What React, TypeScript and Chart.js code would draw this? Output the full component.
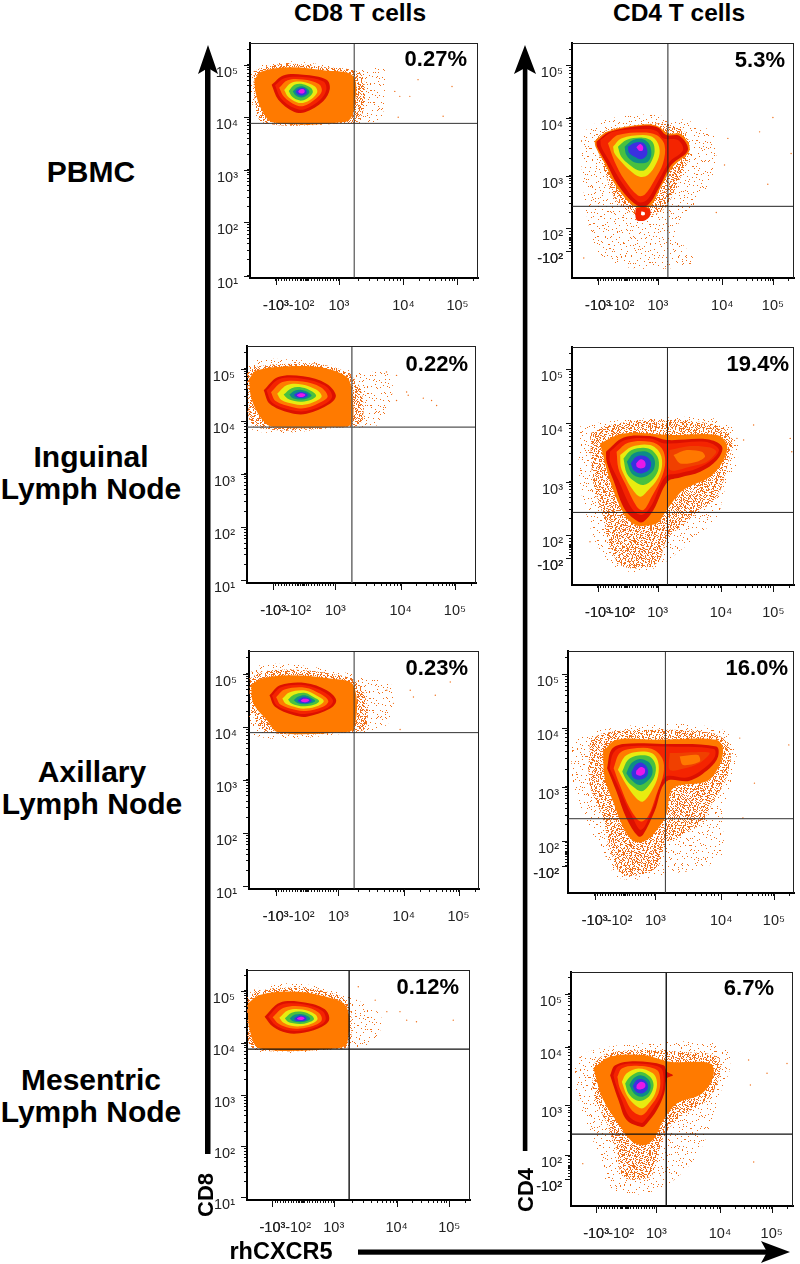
import React, { useEffect, useRef } from "react";
import { Chart, registerables } from "chart.js";

Chart.register(...registerables);

type Pts = number[][];

// All mark values are display channels (0-1000) of the biexponential axes.
// Density levels, outer to inner: sparse, medium, orange, dark red, red, amber, yellow, green, teal, blue, magenta.

const cd8PbmcLevels: Pts[] = [
  [[4,872],[51,907],[175,922],[321,907],[453,886],[584,893],[591,787],[569,673],[467,658],[51,658],[4,773]],
  [[15,879],[66,900],[175,912],[321,898],[482,872],[504,773],[482,673],[438,658],[58,661],[22,751]],
  [[19,844],[51,879],[175,897],[321,884],[453,858],[455,716],[423,666],[102,662],[51,716],[25,787]],
  [[95,822],[146,862],[234,865],[336,844],[350,804],[321,752],[241,705],[190,709],[124,759]],
  [[110,820],[150,850],[232,855],[322,836],[335,802],[308,758],[240,718],[196,722],[136,764]],
  [[128,810],[165,842],[232,845],[302,826],[315,796],[290,764],[235,732],[200,736],[150,770]],
  [[150,800],[180,830],[230,835],[285,815],[295,790],[270,762],[232,745],[205,748],[168,770]],
  [[170,796],[195,822],[232,825],[268,808],[275,788],[252,765],[228,755],[208,758],[182,775]],
  [[188,795],[208,812],[234,815],[255,802],[260,788],[242,772],[226,768],[210,771],[195,782]],
  [[200,794],[215,806],[234,808],[247,798],[248,786],[234,778],[218,778],[206,784]],
  [[212,795],[222,803],[235,803],[240,795],[236,787],[224,785],[214,789]],
];
const cd8InguinalLevels: Pts[] = [
  [[0,904],[34,939],[187,943],[347,925],[478,890],[620,880],[630,777],[566,665],[449,657],[0,657]],
  [[0,883],[34,911],[187,925],[332,921],[449,879],[500,806],[500,679],[434,657],[34,658],[4,763]],
  [[9,862],[41,897],[187,915],[332,908],[434,870],[456,820],[456,672],[376,658],[114,658],[63,693],[19,778]],
  [[73,813],[136,869],[245,872],[347,841],[388,792],[362,756],[260,714],[187,718],[99,756]],
  [[85,812],[140,860],[243,862],[338,834],[372,790],[348,760],[258,726],[192,730],[110,762]],
  [[105,805],[155,848],[243,850],[322,826],[352,788],[328,766],[255,738],[200,742],[125,768]],
  [[132,798],[175,835],[240,838],[302,816],[326,788],[302,768],[248,752],[205,755],[150,772]],
  [[160,795],[195,822],[240,825],[285,808],[302,790],[280,773],[240,765],[208,768],[175,780]],
  [[185,795],[210,812],[240,814],[270,803],[282,790],[262,778],[238,774],[212,776],[195,783]],
  [[205,794],[222,804],[243,805],[262,798],[265,790],[250,782],[228,781],[212,786]],
  [[217,793],[230,800],[245,800],[255,794],[248,787],[232,785],[222,788]],
];
const cd8AxillaryLevels: Pts[] = [
  [[1,905],[48,940],[178,944],[367,919],[498,891],[614,863],[625,780],[600,690],[469,657],[1,657]],
  [[4,884],[55,912],[178,922],[353,905],[469,870],[512,780],[505,675],[440,657],[91,657],[26,710],[4,793]],
  [[9,856],[55,884],[178,898],[353,884],[454,856],[457,675],[396,658],[128,658],[77,710],[19,780]],
  [[89,814],[135,856],[244,866],[338,835],[379,793],[353,758],[251,724],[193,731],[113,766]],
  [[100,812],[140,848],[244,856],[325,828],[365,792],[342,762],[250,736],[198,742],[122,770]],
  [[118,806],[155,838],[244,846],[310,820],[345,790],[322,766],[248,748],[205,752],[138,774]],
  [[145,800],[175,826],[244,834],[295,812],[325,790],[302,770],[246,758],[210,762],[160,778]],
  [[170,796],[195,816],[244,824],[282,806],[305,790],[285,775],[244,768],[215,770],[182,782]],
  [[195,794],[212,808],[244,814],[272,802],[288,790],[268,780],[244,776],[220,778],[205,785]],
  [[212,793],[228,804],[248,805],[268,797],[272,789],[255,782],[232,781],[218,786]],
  [[225,792],[236,799],[250,799],[262,793],[254,787],[240,785],[230,787]],
];
const cd8MesentericLevels: Pts[] = [
  [[0,891],[42,920],[192,942],[371,916],[476,877],[530,850],[600,800],[590,720],[521,664],[446,658],[0,658]],
  [[1,869],[42,906],[192,924],[356,906],[454,855],[461,674],[409,658],[27,658],[1,753]],
  [[4,855],[57,891],[192,906],[341,887],[446,840],[449,681],[401,659],[57,659],[12,739]],
  [[79,797],[147,858],[259,859],[349,829],[368,782],[319,746],[237,725],[177,727],[117,753]],
  [[95,797],[150,848],[258,850],[338,822],[352,782],[310,752],[238,736],[182,738],[128,760]],
  [[115,795],[165,836],[256,840],[322,814],[335,782],[298,758],[238,746],[190,748],[142,766]],
  [[145,792],[185,825],[250,828],[305,808],[316,785],[285,765],[240,755],[198,758],[162,772]],
  [[170,790],[200,814],[248,818],[290,802],[300,785],[272,771],[240,765],[208,768],[182,776]],
  [[192,790],[215,806],[248,808],[275,798],[284,787],[262,776],[238,773],[214,775],[200,780]],
  [[212,790],[230,800],[250,801],[265,794],[266,784],[248,778],[230,778],[216,782]],
  [[224,790],[236,796],[250,796],[258,790],[250,784],[238,783],[228,785]],
];
const cd4PbmcLevels: Pts[] = [
  [[42,615],[140,672],[380,693],[620,629],[650,516],[605,375],[470,205],[545,64],[155,64],[80,205],[42,488]],
  [[102,587],[155,629],[380,657],[500,629],[530,530],[470,389],[425,304],[370,270],[280,270],[200,330],[170,389]],
  [[102,583],[162,625],[320,653],[387,646],[432,615],[492,612],[530,545],[455,474],[402,389],[350,304],[282,304],[200,389],[147,488],[106,559]],
  [[110,580],[170,622],[320,648],[387,640],[425,608],[485,604],[522,544],[447,481],[395,389],[342,311],[290,311],[207,396],[155,488],[113,559]],
  [[128,587],[185,622],[320,634],[380,626],[412,594],[477,587],[500,544],[440,495],[387,410],[337,332],[297,325],[222,410],[170,495],[132,559]],
  [[162,573],[207,608],[320,619],[380,608],[417,566],[410,488],[372,417],[327,354],[297,351],[237,417],[192,495]],
  [[185,559],[222,594],[320,608],[372,594],[395,544],[380,488],[342,438],[305,431],[260,459],[222,495],[192,530]],
  [[207,559],[245,587],[320,597],[362,580],[372,537],[357,495],[327,459],[297,459],[260,481],[222,516]],
  [[237,559],[275,587],[320,590],[350,566],[357,523],[342,495],[312,488],[275,495],[245,523]],
  [[252,559],[282,576],[320,576],[337,552],[337,523],[312,505],[282,516],[257,533]],
  [[290,556],[307,570],[320,559],[317,542],[302,542]],
];
const cd4InguinalLevels: Pts[] = [
  [[29,665],[96,679],[322,700],[683,693],[743,609],[743,511],[683,385],[653,287],[472,133],[352,63],[217,63],[141,119],[81,245],[36,427]],
  [[81,637],[171,672],[352,693],[653,672],[720,609],[698,497],[653,371],[563,301],[427,189],[382,91],[232,77],[171,161],[141,287],[96,427]],
  [[126,595],[231,637],[442,630],[653,630],[698,588],[683,525],[623,455],[502,399],[427,315],[385,260],[340,250],[290,250],[240,290],[180,413]],
  [[153,560],[233,620],[352,626],[427,609],[608,612],[676,581],[653,525],[578,476],[487,452],[430,434],[367,315],[322,266],[299,266],[239,315],[186,441],[156,518]],
  [[171,560],[239,609],[352,616],[420,595],[600,602],[661,571],[638,532],[563,490],[480,469],[420,455],[359,336],[314,294],[269,322],[209,441],[171,518]],
  [[201,560],[253,598],[352,602],[405,574],[420,518],[405,455],[359,371],[322,315],[292,329],[239,427],[209,490]],
  [[217,546],[269,581],[352,588],[397,553],[405,497],[382,441],[344,399],[307,371],[269,406],[239,455],[220,497]],
  [[232,532],[269,567],[344,574],[385,539],[390,490],[367,448],[322,420],[284,434],[247,469]],
  [[247,518],[277,553],[337,560],[370,532],[370,490],[344,462],[307,452],[269,469]],
  [[265,511],[289,539],[329,542],[355,518],[349,486],[314,469],[280,480]],
  [[289,511],[310,528],[329,518],[329,497],[310,490],[292,497]],
];
const cd4AxillaryLevels: Pts[] = [
  [[15,626],[81,660],[332,695],[686,674],[745,571],[730,475],[686,337],[671,144],[435,76],[229,62],[155,172],[96,268],[22,461]],
  [[96,626],[155,660],[332,674],[642,660],[716,598],[701,475],[642,378],[583,282],[435,200],[391,103],[243,76],[184,186],[155,310],[96,447]],
  [[155,585],[214,633],[391,633],[656,633],[686,592],[664,516],[612,461],[465,433],[435,323],[385,250],[340,215],[290,215],[245,270],[199,378],[162,475]],
  [[173,516],[192,592],[243,616],[420,616],[656,605],[664,564],[627,516],[538,464],[435,461],[383,337],[332,241],[310,234],[258,310],[214,420]],
  [[184,516],[202,581],[251,605],[420,605],[645,595],[650,564],[612,523],[531,478],[428,478],[376,351],[324,261],[280,323],[229,427]],
  [[202,516],[229,578],[280,596],[369,596],[417,557],[423,495],[391,406],[354,316],[320,296],[273,351],[229,447]],
  [[221,509],[251,564],[295,582],[369,578],[398,544],[398,482],[369,420],[332,378],[302,392],[258,447]],
  [[240,502],[265,550],[310,568],[361,564],[387,530],[383,482],[354,440],[324,420],[287,440],[258,468]],
  [[258,495],[280,536],[317,554],[354,543],[373,516],[369,482],[339,454],[310,447],[280,468]],
  [[280,498],[299,530],[324,539],[349,520],[354,495],[339,475],[310,468],[287,478]],
  [[302,505],[320,520],[339,514],[339,495],[320,485],[302,491]],
];
const cd4MesentericLevels: Pts[] = [
  [[18,624],[101,666],[326,695],[687,688],[717,595],[672,481],[627,338],[552,195],[386,67],[191,67],[116,238],[26,481]],
  [[101,609],[161,652],[326,666],[477,659],[657,638],[672,566],[612,452],[492,381],[417,295],[387,195],[356,124],[236,124],[206,238],[161,352],[101,481]],
  [[101,588],[176,638],[326,645],[447,616],[627,609],[642,559],[590,481],[477,438],[417,367],[375,290],[330,260],[270,280],[215,350],[146,452]],
  [[176,559],[199,602],[289,619],[417,602],[432,574],[459,559],[432,545],[420,481],[387,410],[341,352],[319,338],[251,367],[214,452],[188,524]],
  [[191,559],[214,598],[293,609],[402,592],[417,552],[409,481],[372,417],[334,367],[319,355],[266,378],[229,452],[203,517]],
  [[209,552],[229,588],[296,599],[387,581],[402,538],[394,481],[356,424],[319,388],[274,409],[244,459],[218,509]],
  [[229,531],[251,567],[304,588],[369,567],[387,531],[379,481],[349,438],[319,417],[281,438],[251,474]],
  [[244,524],[266,552],[311,574],[356,552],[372,517],[356,474],[326,452],[293,452],[259,481]],
  [[263,517],[281,545],[314,559],[349,541],[359,509],[344,478],[314,467],[284,481]],
  [[278,512],[296,538],[323,541],[344,524],[344,498],[319,481],[293,488]],
  [[296,517],[314,531],[333,524],[333,507],[314,498],[296,502]],
];

// Extra islands: [palette index, outline]
const cd4PbmcExtras: [number, Pts][] = [
  [4, [[287,296],[320,303],[352,290],[350,262],[325,244],[292,246],[285,270]]],
  [11, [[312,283],[327,280],[327,268],[312,268]]],
];
const cd4InguinalExtras: [number, Pts][] = [
  [12, [[439,567],[532,584],[623,578],[650,560],[608,518],[532,497],[442,483]]],
  [13, [[457,546],[517,567],[584,560],[599,539],[562,518],[487,511]]],
];
const cd4AxillaryExtras: [number, Pts][] = [
  [12, [[450,578],[568,582],[627,578],[583,537],[509,513],[450,509]]],
  [13, [[494,564],[575,570],[583,543],[509,529]]],
];

const cd8PbmcStrays: Pts = [[737,844],[886,815],[847,688],[635,794],[657,773],[701,773],[650,684]];
const cd8InguinalStrays: Pts = [[609,890],[653,876],[697,806],[770,780],[806,770],[828,749],[653,770],[704,792]];
const cd8AxillaryStrays: Pts = [[701,835],[715,807],[810,814],[875,870],[599,835],[628,780],[657,670]];
const cd8MesentericStrays: Pts = [[499,927],[575,869],[627,819],[686,819],[716,782],[760,775],[925,782]];
const cd4PbmcStrays: Pts = [[905,683],[987,530],[882,399],[702,594],[845,622],[650,279],[53,85],[687,481]];
const cd4InguinalStrays: Pts = [[818,672],[983,616],[990,560],[773,609],[743,616],[81,182]];
const cd4AxillaryStrays: Pts = [[977,612],[825,454],[760,640],[774,310]];
const cd4MesentericStrays: Pts = [[973,609],[808,517],[883,567],[800,624],[823,188],[53,181]];

// [-10^3, 0, 10^3, 10^4, 10^5] channels, and the channel each "-10^2" label sits on
const cd8PbmcX = [114,248,390,673,910];
const cd8InguinalX = [114,245,386,671,908];
const cd8AxillaryX = [116,251,389,673,911];
const cd8MesentericX = [114,251,389,671,907];
const cd4PbmcX = [117,245,387,677,905];
const cd4InguinalX = [117,247,386,671,907];
const cd4AxillaryX = [118,250,387,678,911];
const cd4MesentericX = [113,248,385,671,904];

const cd8PbmcY = [10,237,460,683,907];
const cd8InguinalY = [11,236,461,682,904];
const cd8AxillaryY = [11,235,458,679,905];
const cd8MesentericY = [12,233,455,683,909];
const cd4PbmcY = [113,212,435,681,905];
const cd4InguinalY = [112,210,434,680,906];
const cd4AxillaryY = [113,213,439,681,904];
const cd4MesentericY = [114,217,431,681,907];

const xTickLabels = ["-10³", "-10²", "10³", "10⁴", "10⁵"];
const cd8YLabels = ["10¹", "10²", "10³", "10⁴", "10⁵"];
const cd4YLabels = ["-10²", "10²", "10³", "10⁴", "10⁵"];

const gateCd8Pbmc = [457, 658];
const gateCd8Inguinal = [458, 658];
const gateCd8Axillary = [457, 657];
const gateCd8Mesenteric = [458, 656];
const gateCd4Pbmc = [432, 305];
const gateCd4Inguinal = [430, 305];
const gateCd4Axillary = [431, 307];
const gateCd4Mesenteric = [429, 307];

const rowLabels = [
  { lines: ["PBMC"], y: 172, x: 91 },
  { lines: ["Inguinal", "Lymph Node"], y: 473, x: 91 },
  { lines: ["Axillary", "Lymph Node"], y: 788, x: 92 },
  { lines: ["Mesentric", "Lymph Node"], y: 1096, x: 91 },
];

const levelColors = ["", "", "#ff7a00", "#dc1000", "#f42400", "#ff7c00", "#e8ec10", "#48c040", "#0c8c88", "#3a30e0", "#e818e8", "#ffffff", "#f04000", "#ff7800"];
const stippleCounts = [2800, 21000];

const LOG = [0.301, 0.477, 0.602, 0.699, 0.778, 0.845, 0.903, 0.954];
const TILE = 211;

function stipple(count: number): CanvasPattern {
  // Fill texture for the speckled outskirts of a density level (style only, not a data series).
  const c = document.createElement("canvas");
  c.width = c.height = TILE;
  const g = c.getContext("2d")!;
  g.fillStyle = "#f0701a";
  for (let i = 0; i < count; i++) {
    const a = (1.5 + i * 0.7548776662 + 0.03 * Math.sin(i * 12.9898)) % 1;
    const b = (1.5 + i * 0.569840291 + 0.03 * Math.sin(i * 78.233)) % 1;
    g.fillRect(Math.floor(a * TILE), Math.floor(b * TILE), 1, 1);
  }
  return g.createPattern(c, "repeat")!;
}

function toPts(p: Pts) {
  return p.map(([x, y]) => ({ x, y }));
}

type Panel = {
  box: [number, number, number, number];
  kind: "cd8" | "cd4";
  levels: Pts[];
  extras: [number, Pts][];
  strays: Pts;
  x: number[];
  y: number[];
  gate: number[];
  gateW: number;
  gateColor: string;
  pct: string;
  pctRight: number;
  pctY: number;
};

const panels: Panel[] = [
  { box: [250,43,478,278], kind: "cd8", levels: cd8PbmcLevels, extras: [], strays: cd8PbmcStrays, x: cd8PbmcX, y: cd8PbmcY, gate: gateCd8Pbmc, gateW: 1, gateColor: "#333", pct: "0.27%", pctRight: 467, pctY: 59 },
  { box: [572,43,794,278], kind: "cd4", levels: cd4PbmcLevels, extras: cd4PbmcExtras, strays: cd4PbmcStrays, x: cd4PbmcX, y: cd4PbmcY, gate: gateCd4Pbmc, gateW: 1, gateColor: "#222", pct: "5.3%", pctRight: 785, pctY: 60 },
  { box: [247,346,476,583], kind: "cd8", levels: cd8InguinalLevels, extras: [], strays: cd8InguinalStrays, x: cd8InguinalX, y: cd8InguinalY, gate: gateCd8Inguinal, gateW: 1.3, gateColor: "#555", pct: "0.22%", pctRight: 468, pctY: 364 },
  { box: [572,347,794,585], kind: "cd4", levels: cd4InguinalLevels, extras: cd4InguinalExtras, strays: cd4InguinalStrays, x: cd4InguinalX, y: cd4InguinalY, gate: gateCd4Inguinal, gateW: 1, gateColor: "#222", pct: "19.4%", pctRight: 789, pctY: 364 },
  { box: [249,651,479,889], kind: "cd8", levels: cd8AxillaryLevels, extras: [], strays: cd8AxillaryStrays, x: cd8AxillaryX, y: cd8AxillaryY, gate: gateCd8Axillary, gateW: 1, gateColor: "#333", pct: "0.23%", pctRight: 468, pctY: 668 },
  { box: [568,651,794,893], kind: "cd4", levels: cd4AxillaryLevels, extras: cd4AxillaryExtras, strays: cd4AxillaryStrays, x: cd4AxillaryX, y: cd4AxillaryY, gate: gateCd4Axillary, gateW: 1, gateColor: "#333", pct: "16.0%", pctRight: 788, pctY: 668 },
  { box: [247,970,470,1200], kind: "cd8", levels: cd8MesentericLevels, extras: [], strays: cd8MesentericStrays, x: cd8MesentericX, y: cd8MesentericY, gate: gateCd8Mesenteric, gateW: 1.4, gateColor: "#111", pct: "0.12%", pctRight: 459, pctY: 987 },
  { box: [571,972,793,1206], kind: "cd4", levels: cd4MesentericLevels, extras: [], strays: cd4MesentericStrays, x: cd4MesentericX, y: cd4MesentericY, gate: gateCd4Mesenteric, gateW: 1.4, gateColor: "#111", pct: "6.7%", pctRight: 774, pctY: 988 },
];

const AXIS_W = 55;
const AXIS_H = 50;
const FONT = "'Liberation Sans', Arial, sans-serif";

function xTickSet(x: number[]) {
  const [n3, , p3, p4, p5] = x;
  const out: number[] = [];
  for (let v = n3; v < p3; v += 12) out.push(v);
  LOG.forEach((l) => {
    out.push(p3 + (p4 - p3) * l);
    out.push(p4 + (p5 - p4) * l);
  });
  out.push(p5 + (p5 - p4) * 0.301);
  return out;
}

function yTickSet(y: number[], kind: string) {
  const out: number[] = [];
  const start = kind === "cd8" ? 0 : 1;
  for (let i = start; i < y.length - 1; i++) LOG.forEach((l) => out.push(y[i] + (y[i + 1] - y[i]) * l));
  out.push(y[4] + (y[4] - y[3]) * 0.301);
  if (kind === "cd4") for (let v = y[0]; v < y[1]; v += 12) out.push(v);
  return out;
}

function zeroPad(s: any) {
  s.paddingTop = 0;
  s.paddingBottom = 0;
  s.paddingLeft = 0;
  s.paddingRight = 0;
}

function PanelChart({ p }: { p: Panel }) {
  const ref = useRef<HTMLCanvasElement>(null);
  useEffect(() => {
    const fills: (string | CanvasPattern)[] = levelColors.map((c, i) => (i < 2 ? stipple(stippleCounts[i]) : c));
    const datasets: any[] = [];
    let order = 100;
    p.levels.forEach((pts, i) => {
      datasets.push({
        data: toPts([...pts, pts[0]]), showLine: true, fill: "shape", tension: 0.35, borderWidth: 0,
        pointRadius: 0, backgroundColor: fills[i], borderColor: "transparent", order: order--,
      });
    });
    p.extras.forEach(([c, pts]) => {
      datasets.push({
        data: toPts([...pts, pts[0]]), showLine: true, fill: "shape", tension: 0.3, borderWidth: 0,
        pointRadius: 0, backgroundColor: fills[c], borderColor: "transparent", order: order--,
      });
    });
    datasets.push({ data: toPts(p.strays), showLine: false, pointRadius: 0.7, pointBorderWidth: 0, pointBackgroundColor: "#f0701a", order: 2 });
    const line = (a: Pts) => ({ data: toPts(a), showLine: true, borderColor: p.gateColor, borderWidth: p.gateW, pointRadius: 0, order: 1 });
    datasets.push(line([[p.gate[0], 0], [p.gate[0], 1000]]));
    datasets.push(line([[0, p.gate[1]], [1000, p.gate[1]]]));

    const xLabelTicks = [p.x[0], p.x[1] - 22, p.x[2], p.x[3], p.x[4]];
    const xMap = new Map(xLabelTicks.map((v, i) => [v, xTickLabels[i]]));
    const yLabels = p.kind === "cd8" ? cd8YLabels : cd4YLabels;
    const yMap = new Map(p.y.map((v, i) => [v, yLabels[i]]));
    const xAll = [...xTickSet(p.x), ...xLabelTicks, p.x[1]];
    const zeroY = (p.y[0] + p.y[1]) / 2;
    const yAll = [...yTickSet(p.y, p.kind), ...p.y, ...(p.kind === "cd4" ? [zeroY] : [])];

    const frame = {
      id: "frame",
      afterDraw(ch: any) {
        const c = ch.ctx, a = ch.chartArea, sx = ch.scales.x, sy = ch.scales.y;
        c.save();
        c.strokeStyle = "#222";
        c.lineWidth = 1;
        c.beginPath();
        c.moveTo(a.left, a.top + 0.5);
        c.lineTo(a.right, a.top + 0.5);
        c.moveTo(a.right - 0.5, a.top);
        c.lineTo(a.right - 0.5, a.bottom);
        c.stroke();
        c.strokeStyle = "#111";
        c.beginPath();
        [p.x[0], p.x[2], p.x[3], p.x[4]].forEach((v) => {
          const px = Math.round(sx.getPixelForValue(v)) + 0.5;
          c.moveTo(px, a.bottom);
          c.lineTo(px, a.bottom + 7);
        });
        p.y.forEach((v) => {
          const py = Math.round(sy.getPixelForValue(v)) + 0.5;
          c.moveTo(a.left, py);
          c.lineTo(a.left - 6, py);
        });
        c.stroke();
        c.restore();
      },
    };

    const tickFont = { family: FONT, size: 14.5 };
    const chart = new Chart(ref.current!, {
      type: "scatter",
      data: { datasets },
      plugins: [frame],
      options: {
        responsive: false,
        animation: false,
        devicePixelRatio: 1,
        layout: { autoPadding: false, padding: { top: 1, right: 1, left: 0, bottom: 0 } },
        plugins: { legend: { display: false }, tooltip: { enabled: false } },
        events: [],
        scales: {
          x: {
            type: "linear", min: 0, max: 1000,
            afterBuildTicks: (s: any) => { s.ticks = xAll.map((value) => ({ value })); },
            afterFit: (s: any) => { s.height = AXIS_H; zeroPad(s); },
            border: { display: true, width: 2, color: "#000" },
            grid: { drawOnChartArea: false, drawTicks: true, tickLength: 3, tickColor: "#111",
              tickWidth: (c: any) => (c.tick && c.tick.value === p.x[1] ? 3 : 1) },
            ticks: { autoSkip: false, maxRotation: 0, minRotation: 0, padding: 16, color: "#222", font: tickFont,
              callback: (v: any) => xMap.get(v) ?? "" },
          },
          y: {
            type: "linear", min: 0, max: 1000,
            afterBuildTicks: (s: any) => { s.ticks = yAll.map((value) => ({ value })); },
            afterFit: (s: any) => { s.width = AXIS_W; zeroPad(s); },
            border: { display: true, width: 2, color: "#000" },
            grid: { drawOnChartArea: false, drawTicks: true, tickLength: 3, tickColor: "#111",
              tickWidth: (c: any) => (c.tick && c.tick.value === zeroY ? 3 : 1) },
            ticks: { autoSkip: false, padding: p.kind === "cd8" ? 9 : 6, labelOffset: 8, color: "#222", font: tickFont,
              callback: (v: any) => yMap.get(v) ?? "" },
          },
        },
      } as any,
    });
    return () => chart.destroy();
  }, [p]);
  const [l, t, r, b] = p.box;
  const W = AXIS_W + (r - l) + 1;
  const H = 1 + (b - t) + AXIS_H;
  return (
    <canvas ref={ref} width={W} height={H}
      style={{ position: "absolute", left: l - AXIS_W, top: t - 1, width: W, height: H }} />
  );
}

const boldText: React.CSSProperties = { position: "absolute", fontFamily: FONT, fontWeight: 700, color: "#000", whiteSpace: "nowrap", lineHeight: 1 };

export default function App() {
  return (
    <div style={{ position: "absolute", left: 0, top: 0, width: 800, height: 1264, background: "#fff", overflow: "hidden" }}>
      <svg width={800} height={1264} style={{ position: "absolute", left: 0, top: 0 }}>
        <rect x={205} y={65} width={5.5} height={1089} fill="#000" />
        <path d="M208 45 L218 74 L208 68 L198 74 Z" fill="#000" />
        <rect x={522.8} y={65} width={4.6} height={1086} fill="#000" />
        <path d="M525 45 L536 74 L525 68 L514 74 Z" fill="#000" />
        <rect x={358} y={1249.5} width={410} height={5.2} fill="#000" />
        <path d="M790 1252 L761 1241 L767 1252 L761 1263 Z" fill="#000" />
      </svg>
      {panels.map((p, i) => <PanelChart key={i} p={p} />)}
      {panels.map((p, i) => (
        <div key={"pct" + i} style={{ ...boldText, right: 800 - p.pctRight, top: p.pctY - 11, fontSize: 22 }}>{p.pct}</div>
      ))}
      <div style={{ ...boldText, left: 360, top: 1, fontSize: 24.5, transform: "translateX(-50%)" }}>CD8 T cells</div>
      <div style={{ ...boldText, left: 679, top: 1, fontSize: 24.5, transform: "translateX(-50%)" }}>CD4 T cells</div>
      {rowLabels.map((r, i) => (
        <div key={"row" + i} style={{ ...boldText, left: r.x, top: r.y, fontSize: 30, lineHeight: "32px", textAlign: "center", transform: "translate(-50%,-50%)" }}>
          {r.lines.map((s) => <div key={s}>{s}</div>)}
        </div>
      ))}
      <div style={{ ...boldText, left: 206, top: 1195, fontSize: 22, transform: "translate(-50%,-50%) rotate(-90deg)" }}>CD8</div>
      <div style={{ ...boldText, left: 526, top: 1190, fontSize: 22, transform: "translate(-50%,-50%) rotate(-90deg)" }}>CD4</div>
      <div style={{ ...boldText, left: 281, top: 1252, fontSize: 23.5, transform: "translate(-50%,-50%)" }}>rhCXCR5</div>
    </div>
  );
}
